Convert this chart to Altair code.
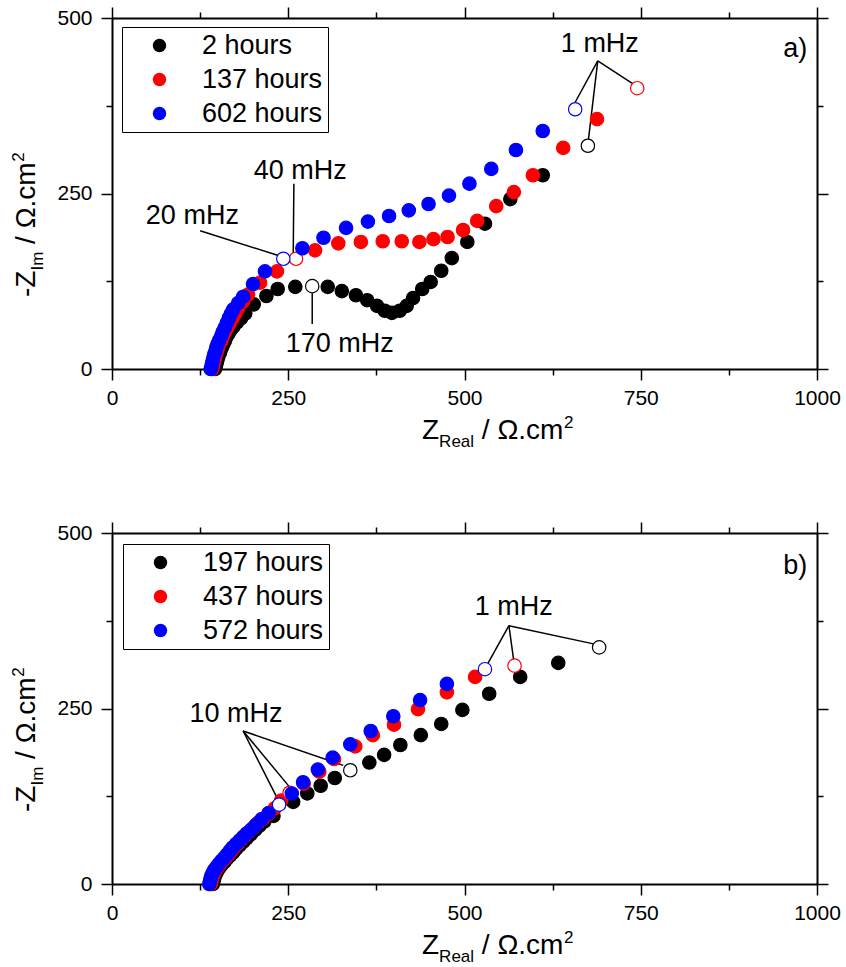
import altair as alt
import pandas as pd

FONT = "Liberation Sans"
COLORS = ["#000000", "#ff0000", "#0000ff"]

# ---------------- panel a) ----------------
a_labels = ["2 hours", "137 hours", "602 hours"]
a_2h_x = [146, 147, 148, 149, 150, 151, 153, 154, 156, 158, 160, 162, 165, 168, 172, 177, 183, 189, 201, 219, 235, 260,
          306, 326, 346, 362, 376, 387, 397, 408, 418, 427, 440, 452, 467, 482, 504, 529, 565, 611]
a_2h_y = [0, 3, 7, 11, 15, 19, 23, 27, 31, 36, 40, 45, 50, 55, 60, 66, 72, 79, 92, 104, 114, 117,
          117, 111, 105, 98, 90, 83, 80, 83, 90, 101, 114, 124, 140, 158, 181, 207, 242, 276]
a_137h_x = [142, 143, 144, 145, 146, 147, 149, 150, 152, 155, 157, 160, 163, 167, 171, 175, 179, 186, 193, 210, 234,
            288, 321, 353, 384, 411, 436, 456, 476, 498, 518, 545, 570, 597, 640, 688]
a_137h_y = [0, 4, 8, 12, 16, 20, 25, 30, 35, 40, 46, 52, 58, 65, 72, 79, 87, 96, 106, 123, 139,
            169, 179, 181, 182, 182, 181, 185, 188, 198, 211, 232, 252, 276, 315, 356]
a_602h_x = [140, 141, 142, 143, 144, 145, 147, 148, 150, 152, 155, 157, 160, 163, 166, 169, 172, 179, 186, 200, 217,
            270, 300, 332, 363, 393, 421, 449, 478, 507, 538, 573, 611]
a_602h_y = [0, 4, 8, 12, 17, 21, 26, 31, 36, 41, 47, 53, 59, 66, 73, 79, 85, 94, 103, 121, 139,
            172, 187, 201, 210, 218, 226, 235, 247, 264, 285, 312, 339]
# highlighted (open) frequency points
a_open_series = ["2 hours", "2 hours", "137 hours", "137 hours", "602 hours", "602 hours"]
a_open_x = [284, 675, 261, 745, 243, 657]
a_open_y = [118, 318, 157, 400, 157, 370]
# annotations
a_note_text = ["1 mHz", "20 mHz", "40 mHz", "170 mHz", "a)"]
a_note_x = [692, 114, 267, 323, 969]
a_note_y = [463, 218, 282, 36, 456]
a_lead_x = [689, 689, 689, 125, 258, 284]
a_lead_y = [439, 439, 439, 197, 264, 64]
a_lead_x2 = [657, 675, 738, 238, 257, 284]
a_lead_y2 = [380, 320, 407, 161, 158, 108]

# ---------------- panel b) ----------------
b_labels = ["197 hours", "437 hours", "572 hours"]
b_197h_x = [143, 144, 145, 146, 148, 150, 153, 156, 160, 164, 168, 172, 176, 181, 186, 191, 197, 203, 209, 216, 229,
            257, 277, 296, 316, 365, 386, 409, 438, 467, 497, 535, 579, 633]
b_197h_y = [0, 4, 8, 12, 16, 20, 24, 28, 32, 37, 41, 45, 50, 55, 60, 65, 71, 77, 83, 89, 97,
            117, 129, 140, 151, 173, 184, 198, 212, 228, 248, 271, 295, 315]
b_437h_x = [140, 141, 142, 143, 145, 147, 150, 153, 157, 161, 165, 169, 173, 178, 183, 188, 194, 200, 207, 214, 222, 231, 240,
            272, 294, 315, 345, 370, 400, 434, 475, 515]
b_437h_y = [0, 4, 8, 12, 16, 20, 24, 28, 33, 37, 42, 47, 52, 57, 63, 68, 74, 80, 87, 93, 100, 108, 119,
            143, 160, 178, 196, 212, 227, 249, 273, 295]
b_572h_x = [138, 139, 140, 141, 143, 145, 148, 151, 155, 159, 163, 167, 171, 176, 181, 186, 191, 197, 204, 212, 222,
            255, 271, 292, 313, 338, 367, 399, 437, 475]
b_572h_y = [0, 4, 8, 12, 16, 20, 24, 28, 33, 37, 42, 47, 52, 57, 62, 67, 72, 77, 84, 92, 101,
            129, 145, 163, 180, 199, 218, 239, 262, 285]
b_open_series = ["197 hours", "197 hours", "437 hours", "437 hours", "572 hours", "572 hours"]
b_open_x = [338, 691, 252, 571, 237, 529]
b_open_y = [162, 337, 130, 311, 113, 306]
b_note_text = ["1 mHz", "10 mHz", "b)"]
b_note_x = [570, 176, 969]
b_note_y = [394, 242, 453]
b_lead_x = [563, 563, 563, 186, 186, 186]
b_lead_y = [368, 368, 368, 218, 218, 218]
b_lead_x2 = [532, 570, 688, 234, 252, 328]
b_lead_y2 = [312, 317, 341, 123, 138, 169]

# ---------------- layout constants ----------------
W, H = 705, 351
MAJOR = "datum.value % 250 == 0"
XS = alt.Scale(domain=[0, 1000], nice=False, zero=False)
YS = alt.Scale(domain=[0, 500], nice=False, zero=False)


def axis(orient, values, labels):
    kw = dict(
        orient=orient, values=values, format="d", grid=False, title=None,
        domainColor="black", domainWidth=2, tickColor="black", tickWidth=1.5,
        tickSize={"condition": {"test": MAJOR, "value": 11}, "value": 6},
        labels=labels,
    )
    if labels:
        kw.update(labelExpr=MAJOR + " ? datum.label : ''", labelFont=FONT, labelFontSize=21,
                  labelColor="black", labelPadding=9 if orient == "left" else 7,
                  labelFlush=False, labelOverlap=False)
    return alt.Axis(**kw)


def label(text, x, y, size, angle=0):
    return alt.Chart(alt.Data(values=[{"k": 0}])).mark_text(
        text=text, x=x, y=y, font=FONT, fontSize=size, angle=angle,
        align="left", baseline="alphabetic", color="black")


def axis_titles():
    F, f = 28, 17
    parts = []
    # x title: Z_Real / Ω.cm^2
    x0, yb = 310, 421
    parts.append(label("Z", x0, yb, F))
    x0 += 0.611 * F
    parts.append(label("Real", x0, yb + 8, f))
    x0 += 2.056 * f + 0.278 * F
    parts.append(label("/ \u03a9.cm", x0, yb, F))
    x0 += 2.935 * F
    parts.append(label("2", x0, yb - 11, f))
    # y title (rotated): -Z_Im / Ω.cm^2
    xb, y0 = -77, 279
    parts.append(label("-Z", xb, y0, F, 270))
    y0 -= 0.944 * F
    parts.append(label("Im", xb + 8, y0, f, 270))
    y0 -= 1.111 * f + 0.278 * F
    parts.append(label("/ \u03a9.cm", xb, y0, F, 270))
    y0 -= 2.935 * F
    parts.append(label("2", xb - 11, y0, f, 270))
    return parts


def panel(labels, series, open_pts, notes, leads, leg_xy):
    rows = []
    for i, (lab, (xs, ys)) in enumerate(zip(labels, series)):
        for x, y in zip(xs, ys):
            rows.append(dict(series=lab, x=x, y=y, hollow=False, draw=2 * i))
    for lab, x, y in zip(*open_pts):
        rows.append(dict(series=lab, x=x, y=y, hollow=True, draw=2 * labels.index(lab) + 1))
    df = pd.DataFrame(rows)
    cscale = alt.Scale(domain=labels, range=COLORS)
    leg = alt.Legend(
        orient="none", legendX=leg_xy[0], legendY=leg_xy[1], title=None,
        strokeColor="black", fillColor="white", padding=5,
        labelFont=FONT, labelFontSize=27, labelColor="black", labelExpr="datum.label + '    '",
        symbolType="circle", symbolSize=180, symbolStrokeWidth=0,
        symbolOffset=19, labelOffset=29, rowPadding=6,
    )
    vals_x = list(range(0, 1001, 125))
    vals_y = list(range(0, 501, 125))
    points = alt.Chart(df).mark_point(shape="circle", filled=True, size=180, strokeWidth=1.2, opacity=1).encode(
        x=alt.X("x:Q", scale=XS, axis=axis("bottom", vals_x, True)),
        y=alt.Y("y:Q", scale=YS, axis=axis("left", vals_y, True)),
        fill=alt.condition("datum.hollow", alt.value("white"),
                           alt.Color("series:N", scale=cscale, legend=leg)),
        stroke=alt.Stroke("series:N", scale=cscale, legend=None),
        order=alt.Order("draw:Q"),
    )
    mirror = alt.Chart(df).mark_point(opacity=0).encode(
        x=alt.X("x:Q", scale=XS, axis=axis("top", vals_x, False)),
        y=alt.Y("y:Q", scale=YS, axis=axis("right", vals_y, False)),
    )
    ndf = pd.DataFrame(dict(text=notes[0], x=notes[1], y=notes[2]))
    texts = alt.Chart(ndf).mark_text(font=FONT, fontSize=27, align="center", baseline="middle", color="black").encode(
        x=alt.X("x:Q", scale=XS, axis=None), y=alt.Y("y:Q", scale=YS, axis=None), text="text:N")
    ldf = pd.DataFrame(dict(x=leads[0], y=leads[1], x2=leads[2], y2=leads[3]))
    rules = alt.Chart(ldf).mark_rule(color="black", strokeWidth=1.5).encode(
        x=alt.X("x:Q", scale=XS, axis=None), y=alt.Y("y:Q", scale=YS, axis=None), x2="x2:Q", y2="y2:Q")
    return alt.layer(mirror, rules, points, texts, *axis_titles()).resolve_axis(
        x="independent", y="independent").properties(width=W, height=H)


pa = panel(a_labels, [(a_2h_x, a_2h_y), (a_137h_x, a_137h_y), (a_602h_x, a_602h_y)],
           (a_open_series, a_open_x, a_open_y), (a_note_text, a_note_x, a_note_y),
           (a_lead_x, a_lead_y, a_lead_x2, a_lead_y2), (10, 9))
pb = panel(b_labels, [(b_197h_x, b_197h_y), (b_437h_x, b_437h_y), (b_572h_x, b_572h_y)],
           (b_open_series, b_open_x, b_open_y), (b_note_text, b_note_x, b_note_y),
           (b_lead_x, b_lead_y, b_lead_x2, b_lead_y2), (11, 11))

chart = alt.vconcat(pa, pb, spacing=71).resolve_scale(
    fill="independent", stroke="independent").configure_view(stroke=None).properties(
    padding={"left": 10, "top": 6, "right": 5, "bottom": 5}, background="white")

chart.save("out.html", embed_options={"renderer": "svg", "actions": False})
